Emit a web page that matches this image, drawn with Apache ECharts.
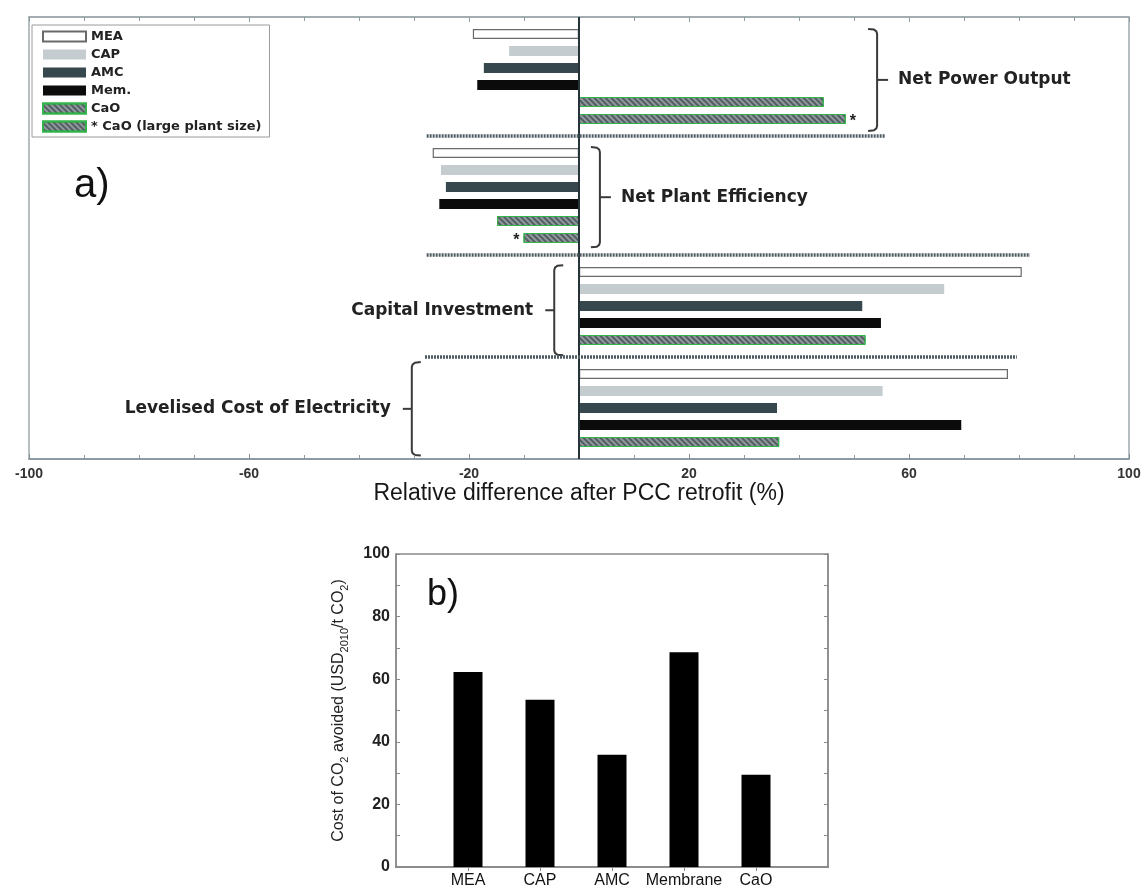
<!DOCTYPE html>
<html>
<head>
<meta charset="utf-8">
<script src="https://cdn.jsdelivr.net/npm/echarts@6/dist/echarts.min.js"></script>
<style>
html,body{margin:0;padding:0;background:#fff;}
#c{width:1145px;height:889px;}
</style>
</head>
<body>
<div id="c"></div>
<script>
// ---------- data (panel a) ----------
const techs = ['MEA', 'CAP', 'AMC', 'Mem.', 'CaO', '* CaO (large plant size)'];
const groupNames = ['Net Power Output', 'Net Plant Efficiency', 'Capital Investment', 'Levelised Cost of Electricity'];
const netPowerOutput = [-19.3, -12.7, -17.3, -18.5, 44.5, 48.5];
const netPlantEfficiency = [-26.6, -25.1, -24.2, -25.4, -14.9, -10.1];
const capitalInvestment = [80.5, 66.4, 51.5, 54.9, 52.1];
const levelisedCost = [78.0, 55.2, 36.0, 69.5, 36.4];
const xTickMin = -100, xTickMax = 100, xTickStep = 40;
// separator line extents (x values) after groups 1..3
const separatorSpans = [[-27.7, 55.7], [-27.7, 82.0], [-28.0, 79.6]];

// ---------- data (panel b) ----------
const bCategories = ['MEA', 'CAP', 'AMC', 'Membrane', 'CaO'];
const costAvoided = [62.3, 53.4, 35.9, 68.6, 29.5];
const bYMin = 0, bYMax = 100, bYStep = 20;

// ---------- build rows ----------
const groups = [netPowerOutput, netPlantEfficiency, capitalInvestment, levelisedCost];
const cats = ['pad0'];
const rowTech = [null];
const rowVal = [null];
const groupRows = [];
const sepIdx = [];
groups.forEach((g, gi) => {
  const first = cats.length;
  g.forEach((v, ti) => { cats.push(groupNames[gi] + ' ' + techs[ti]); rowTech.push(ti); rowVal.push(v); });
  groupRows.push([first, cats.length - 1]);
  if (gi < groups.length - 1) { sepIdx.push(cats.length); cats.push('sep' + gi); rowTech.push(null); rowVal.push(null); }
});
cats.push('pad1'); rowTech.push(null); rowVal.push(null);

const hatch = { symbol: 'rect', color: 'rgba(35,45,50,0.55)', dashArrayX: [1, 0], dashArrayY: [1.5, 1.5], rotation: Math.PI / 4, symbolSize: 1 };
const styles = [
  { color: '#ffffff', borderColor: '#6a6a6a', borderWidth: 1.2 },
  { color: '#c4ccd0' },
  { color: '#37474e' },
  { color: '#0b0b0b' },
  { color: '#8f999d', borderColor: '#33b44a', borderWidth: 1, decal: hatch },
  { color: '#8f999d', borderColor: '#33b44a', borderWidth: 1, decal: hatch }
];

const seriesA = techs.map((t, ti) => {
  const data = cats.map((c, i) => {
    if (rowTech[i] !== ti) return null;
    if (ti === 5) {
      return { value: rowVal[i], label: { show: true, position: rowVal[i] >= 0 ? 'right' : 'left', formatter: '*', fontSize: 16, fontWeight: 'bold', color: '#222', distance: 4, offset: [0, 3] } };
    }
    return rowVal[i];
  });
  const s = {
    name: t, type: 'bar', xAxisIndex: 0, yAxisIndex: 0, data: data,
    barWidth: 10, barGap: '-100%', itemStyle: styles[ti], emphasis: { disabled: true }, animation: false
  };
  if (ti === 0) {
    s.markLine = {
      silent: true, symbol: 'none', animation: false, label: { show: false },
      data: [
        { xAxis: 0, lineStyle: { color: '#26343a', width: 2, type: 'solid' } }
      ].concat(sepIdx.map((si, k) => [
        { coord: [separatorSpans[k][0], si], lineStyle: { color: '#4e5c62', width: 3.5, type: [2, 1] } },
        { coord: [separatorSpans[k][1], si] }
      ]))
    };
  }
  return s;
});

const seriesB = {
  type: 'bar', xAxisIndex: 2, yAxisIndex: 1, barWidth: 29,
  data: [null].concat(costAvoided).concat([null]),
  itemStyle: { color: '#000' }, emphasis: { disabled: true }, animation: false
};

const chart = echarts.init(document.getElementById('c'));
const frameA = '#9fa9ad';
const frameB = '#8a8a8a';
chart.setOption({
  backgroundColor: '#fff',
  animation: false,
  legend: {
    data: techs, orient: 'vertical', left: 32, top: 25, icon: 'rect',
    itemWidth: 43, itemHeight: 10, itemGap: 3, itemTextGap: 5,
    padding: [4, 8, 3, 10], borderColor: '#9a9a9a', borderWidth: 1,
    selectedMode: false,
    textStyle: { fontFamily: 'DejaVu Sans', fontWeight: 'bold', fontSize: 13, color: '#222', lineHeight: 15 }
  },
  grid: [
    { left: 29, right: 16, top: 17, height: 442, show: true, borderColor: frameA, borderWidth: 1.5, backgroundColor: 'transparent' },
    { left: 396, right: 317, top: 554, bottom: 21, show: true, borderColor: frameB, borderWidth: 1.5, backgroundColor: 'transparent' }
  ],
  xAxis: [
    { type: 'value', gridIndex: 0, min: xTickMin, max: xTickMax, interval: xTickStep, position: 'bottom',
      axisLine: { show: true, lineStyle: { color: '#7f9096', width: 1.5 } },
      axisTick: { show: true, inside: true, length: 5, lineStyle: { color: '#7f9096' } },
      minorTick: { show: true, splitNumber: 4, length: 4, lineStyle: { color: '#8c9ca2' } },
      splitLine: { show: false },
      axisLabel: { margin: 8, fontFamily: 'Liberation Sans', fontWeight: 'bold', fontSize: 14, color: '#333' },
      name: 'Relative difference after PCC retrofit (%)', nameLocation: 'middle', nameGap: 23,
      nameTextStyle: { fontFamily: 'Liberation Sans', fontSize: 23, color: '#161616' }
    },
    { type: 'value', gridIndex: 0, min: xTickMin, max: xTickMax, interval: xTickStep, position: 'top',
      axisLine: { show: true, lineStyle: { color: frameA, width: 1.5 } },
      axisTick: { show: true, inside: true, length: 5, lineStyle: { color: '#8c9ca2' } },
      minorTick: { show: true, splitNumber: 4, length: 4, lineStyle: { color: '#8c9ca2' } },
      splitLine: { show: false }, axisLabel: { show: false }
    },
    { type: 'category', gridIndex: 1, data: [''].concat(bCategories).concat(['']), boundaryGap: false, position: 'bottom',
      axisLine: { show: true, lineStyle: { color: frameB, width: 1.5 } },
      axisTick: { show: false },
      axisLabel: { margin: 6, fontFamily: 'Liberation Sans', fontSize: 16, color: '#111', interval: 0 }
    },
    { type: 'category', gridIndex: 1, data: [''].concat(bCategories).concat(['']), boundaryGap: false, position: 'top',
      axisLine: { show: true, lineStyle: { color: frameB, width: 1.5 } },
      axisTick: { show: true, inside: true, length: 4, interval: (i) => i > 0 && i < bCategories.length + 1, lineStyle: { color: frameB } },
      axisLabel: { show: false }
    }
  ],
  yAxis: [
    { type: 'category', gridIndex: 0, data: cats, inverse: true, boundaryGap: false,
      axisLine: { show: false }, axisTick: { show: false }, axisLabel: { show: false }, splitLine: { show: false } },
    { type: 'value', gridIndex: 1, min: bYMin, max: bYMax, interval: bYStep, position: 'left',
      axisLine: { show: true, lineStyle: { color: frameB, width: 1.5 } },
      axisTick: { show: false },
      splitLine: { show: false },
      axisLabel: { fontFamily: 'Liberation Sans', fontWeight: 'bold', fontSize: 16, color: '#222', margin: 6 },
      name: '{a|Cost of CO}{s|2}{a| avoided (USD}{s|2010}{a|/t CO}{s|2}{a|)}',
      nameLocation: 'middle', nameGap: 46, nameRotate: 90,
      nameTextStyle: {
        rich: {
          a: { fontFamily: 'Liberation Sans', fontSize: 16, color: '#222', lineHeight: 22, verticalAlign: 'middle' },
          s: { fontFamily: 'Liberation Sans', fontSize: 11, color: '#222', lineHeight: 22, verticalAlign: 'bottom' }
        }
      }
    },
    { type: 'value', gridIndex: 1, min: bYMin, max: bYMax, interval: bYStep / 2, position: 'left',
      axisLine: { show: false }, axisTick: { show: true, inside: true, length: 4, lineStyle: { color: frameB } },
      axisLabel: { show: false }, splitLine: { show: false } },
    { type: 'value', gridIndex: 1, min: bYMin, max: bYMax, interval: bYStep / 2, position: 'right',
      axisLine: { show: true, lineStyle: { color: frameB, width: 1.5 } },
      axisTick: { show: true, inside: true, length: 4, lineStyle: { color: frameB } },
      axisLabel: { show: false }, splitLine: { show: false } }
  ],
  series: seriesA.concat([seriesB])
});

// ---------- braces & group labels ----------
// [group, brace x value, opening side ('right' = '}' , 'left' = '{'), row offset above first, row offset below last]
const braceDefs = [
  [0, 54.2, 'right', -0.3, 0.7],
  [1, 3.8, 'right', -0.35, 0.55],
  [2, -4.5, 'left', -0.4, 0.9],
  [3, -30.4, 'left', -0.7, 0.8]
];
const graphics = [];
const labelFont = 'bold 17px "DejaVu Sans"';
const braceStroke = { stroke: '#3a3a3a', lineWidth: 2, fill: null };
const px = (xv, row) => chart.convertToPixel({ xAxisIndex: 0, yAxisIndex: 0 }, [xv, row]);
braceDefs.forEach(([gi, xv, side, dTop, dBot]) => {
  const [r0, r1] = groupRows[gi];
  const p0 = px(xv, r0), p1 = px(xv, r1);
  const step = px(xv, r0 + 1)[1] - p0[1];
  const x = p0[0], y0 = p0[1] + dTop * step, y1 = p1[1] + dBot * step, ym = (y0 + y1) / 2;
  const hook = side === 'right' ? -9 : 9;
  const dash = side === 'right' ? 11 : -9;
  graphics.push({ type: 'polyline', silent: true, style: braceStroke,
    shape: { points: [[x + hook, y0], [x + hook * 0.35, y0 + 0.6], [x + hook * 0.08, y0 + 2.5], [x, y0 + 5],
                      [x, y1 - 5], [x + hook * 0.08, y1 - 2.5], [x + hook * 0.35, y1 - 0.6], [x + hook, y1]] } });
  graphics.push({ type: 'line', silent: true, style: braceStroke, shape: { x1: x, y1: ym, x2: x + dash, y2: ym } });
  graphics.push({
    type: 'text', silent: true,
    style: {
      text: groupNames[gi], font: labelFont, fill: '#222',
      x: side === 'right' ? x + dash + 10 : x + dash - 12, y: ym,
      textAlign: side === 'right' ? 'left' : 'right', textVerticalAlign: 'middle'
    }
  });
});
graphics.push({ type: 'text', silent: true, style: { text: 'a)', font: '40px "Liberation Sans"', fill: '#111', x: 74, y: 186, textVerticalAlign: 'middle' } });
graphics.push({ type: 'text', silent: true, style: { text: 'b)', font: '36px "Liberation Sans"', fill: '#111', x: 427, y: 595, textVerticalAlign: 'middle' } });
chart.setOption({ graphic: graphics });
</script>
</body>
</html>
